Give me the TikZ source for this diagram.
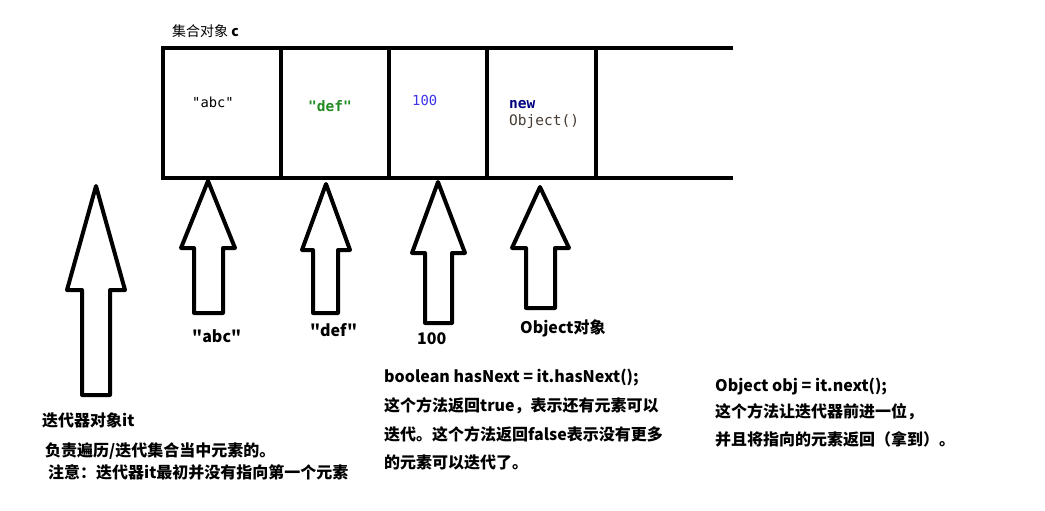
\documentclass[tikz,border=0pt]{standalone}
\usepackage{fontspec}
\setmainfont{Noto Sans CJK SC}[Ligatures=TeXOff]
\setmonofont{DejaVu Sans Mono}
\definecolor{defgreen}{RGB}{34,140,34}
\definecolor{numblue}{RGB}{60,50,230}
\definecolor{kwnavy}{RGB}{0,0,128}
\definecolor{objgray}{RGB}{70,60,50}
\tikzset{
  cellline/.style={line width=4pt},
  blockarrow/.style={draw=black,fill=white,line width=4pt,line join=round},
  lbl/.style={anchor=base west,inner sep=0pt,font=\fontsize{16}{18}\selectfont\bfseries},
  celltxt/.style={anchor=base west,inner sep=0pt},
}
\begin{document}
\begin{tikzpicture}[x=1pt,y=-1pt]
\useasboundingbox (0,0) rectangle (1045,511);
\fill[white] (0,0) rectangle (1045,511);
% collection
\node[anchor=base west,inner sep=0pt,font=\fontsize{14}{16}\selectfont] (title) at (172,37) {集合对象 \textbf{c}};
\draw[cellline] (733,48) coordinate (tr) -- (163,48) -- (163,178) -- (733,178) coordinate (br);
\foreach \x in {281,389,487,596} \draw[cellline] (\x,48) -- (\x,178);
\node[celltxt,font=\ttfamily\fontsize{13.8}{14}\selectfont] (c1) at (192,107) {"abc"};
\node[celltxt,font=\ttfamily\bfseries\fontsize{14.5}{14}\selectfont,text=defgreen] (c2) at (308,111) {"def"};
\node[celltxt,font=\ttfamily\fontsize{13.8}{14}\selectfont,text=numblue] (c3) at (412,106) {100};
\node[celltxt,font=\ttfamily\bfseries\fontsize{14.5}{14}\selectfont,text=kwnavy] (c4a) at (509,108) {new};
\node[celltxt,font=\ttfamily\fontsize{14.5}{16}\selectfont,text=objgray] (c4b) at (509,125) {Object()};
% block arrows
\draw[blockarrow] (96,186) -- (125,290) -- (110,290) -- (110,395) -- (82,395) -- (82,290) -- (67,290) -- cycle;
\draw[blockarrow] (208,181) -- (235,248) -- (223,248) -- (223,313) -- (194,313) -- (194,248) -- (181,248) -- cycle;
\draw[blockarrow] (326,184) -- (350,250) -- (338,250) -- (338,313) -- (313,313) -- (313,250) -- (302,250) -- cycle;
\draw[blockarrow] (438,182) -- (465,253) -- (452,253) -- (452,323) -- (425,323) -- (425,253) -- (412,253) -- cycle;
\draw[blockarrow] (540,187) -- (569,248) -- (555,248) -- (555,308) -- (526,308) -- (526,248) -- (512,248) -- cycle;
% arrow labels
\node[lbl] (l1) at (192,342) {"abc"};
\node[lbl] (l2) at (310,336) {"def"};
\node[lbl] (l3) at (417,344) {100};
\node[lbl] (l4) at (520,333) {Object对象};
% iterator text
\node[lbl] (it1) at (42,426) {迭代器对象it};
\node[lbl] (it2) at (45,456) {负责遍历/迭代集合当中元素的。};
\node[lbl] (it3) at (48,478) {注意：迭代器it最初并没有指向第一个元素};
% hasNext text
\node[lbl] (h1) at (384,382) {boolean hasNext = it.hasNext();};
\node[lbl] (h2) at (384,411) {这个方法返回true，表示还有元素可以};
\node[lbl] (h3) at (384,440) {迭代。这个方法返回false表示没有更多};
\node[lbl] (h4) at (384,468) {的元素可以迭代了。};
% next text
\node[lbl] (n1) at (715,391) {Object obj = it.next();};
\node[lbl] (n2) at (715,417) {这个方法让迭代器前进一位，};
\node[lbl] (n3) at (715,445) {并且将指向的元素返回（拿到）。};
\end{tikzpicture}
\end{document}
